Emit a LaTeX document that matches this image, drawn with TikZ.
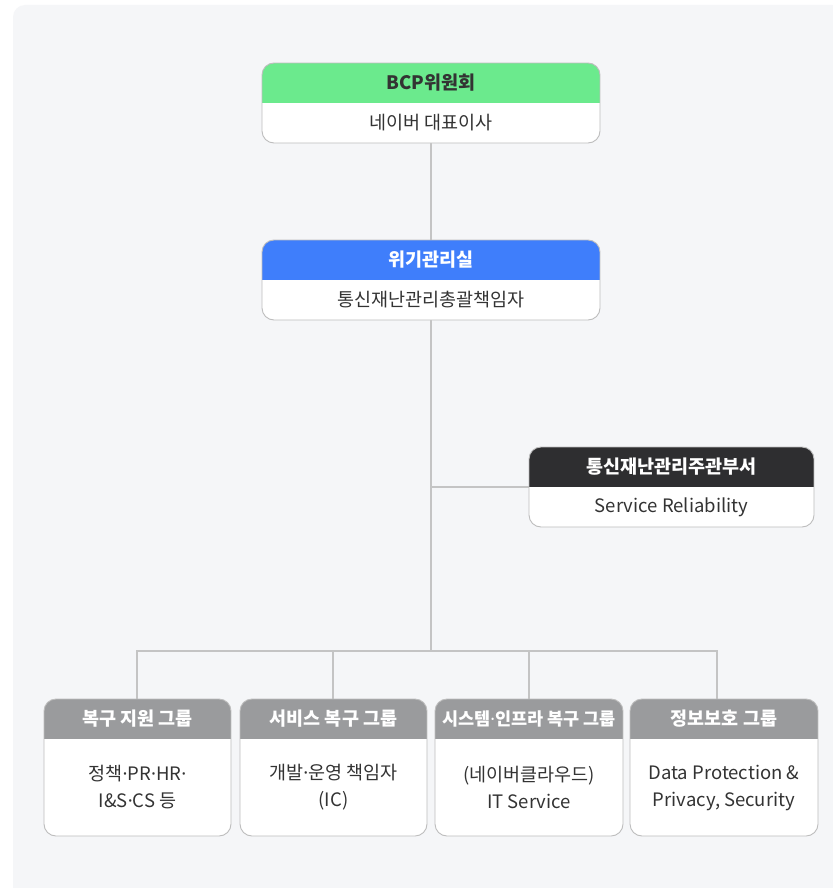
\documentclass[tikz,border=0pt]{standalone}
\usepackage{fontspec}
\setmainfont{Noto Sans CJK KR}
\newfontfamily\dotfont{Noto Sans}
\newcommand\md{{\dotfont ·}}
\definecolor{panel}{HTML}{F5F6F8}
\definecolor{hgreen}{HTML}{6BEA8D}
\definecolor{hblue}{HTML}{3F7EFB}
\definecolor{hdark}{HTML}{2E2E30}
\definecolor{hgray}{HTML}{9A9B9D}
\definecolor{txt}{HTML}{333333}
\definecolor{edge}{HTML}{BDBDBD}
\definecolor{wire}{HTML}{C4C4C4}
\tikzset{
  boxframe/.style={rectangle, inner sep=0pt, outer sep=0pt},
  titletext/.style={font=\fontsize{18.5}{22}\selectfont\bfseries},
  bodytext/.style={font=\fontsize{18.5}{27}\selectfont, text=txt, align=center},
  wireline/.style={draw=wire, line width=1.3pt},
}
% name, x1, y1, x2, y2, header colour, title colour, title, body
\newcommand\orgbox[9]{%
  \node[boxframe, minimum width={(#4-#2)*1pt}, minimum height={(#5-#3)*1pt}] (#1) at ({(#2+#4)/2},{(#3+#5)/2}) {};
  \fill[white, rounded corners=12pt] (#2,#3) rectangle (#4,#5);
  \begin{scope}
    \clip[rounded corners=12pt] (#2,#3) rectangle (#4,#5);
    \fill[#6] (#2,#3) rectangle (#4,#3+40);
  \end{scope}
  \draw[edge, line width=0.9pt, rounded corners=12pt] (#2,#3) rectangle (#4,#5);
  \node[titletext, text=#7] (#1-t) at ({(#2+#4)/2},#3+20) {#8};
  \node[bodytext] (#1-b) at ({(#2+#4)/2},{(#3+40+#5)/2}) {#9};
}
\begin{document}
\begin{tikzpicture}[x=1pt, y=-1pt]
\useasboundingbox (0,0) rectangle (832,888);
\fill[white] (0,0) rectangle (832,888);
\fill[panel, rounded corners=12pt] (13,5) rectangle (860,900);

% connectors
\coordinate (bus) at (431,651);
\draw[wireline] (431,143) -- (431,240);
\draw[wireline] (431,320) -- (bus);
\draw[wireline] (431,487) -- (529,487);
\draw[wireline] (137,699) -- (137,651) -- (717,651) -- (717,699);
\draw[wireline] (333,651) -- (333,699);
\draw[wireline] (529,651) -- (529,699);

\orgbox{bcp}{262}{63}{600}{143}{hgreen}{txt}{BCP위원회}{네이버 대표이사}
\orgbox{crisis}{262}{240}{600}{320}{hblue}{white}{위기관리실}{통신재난관리총괄책임자}
\orgbox{srb}{529}{447}{814}{527}{hdark}{white}{통신재난관리주관부서}{Service Reliability}
\orgbox{g1}{44}{699}{231}{836}{hgray}{white}{복구 지원 그룹}{정책\md PR\md HR\md\\I\&S\md CS 등}
\orgbox{g2}{240}{699}{427}{836}{hgray}{white}{서비스 복구 그룹}{개발\md 운영 책임자\\(IC)}
\orgbox{g3}{435}{699}{623}{836}{hgray}{white}{\fontsize{17.5}{22}\selectfont 시스템\md 인프라 복구 그룹}{(네이버클라우드)\\IT Service}
\orgbox{g4}{630}{699}{818}{836}{hgray}{white}{정보보호 그룹}{Data Protection \&\\Privacy, Security}
\end{tikzpicture}
\end{document}
